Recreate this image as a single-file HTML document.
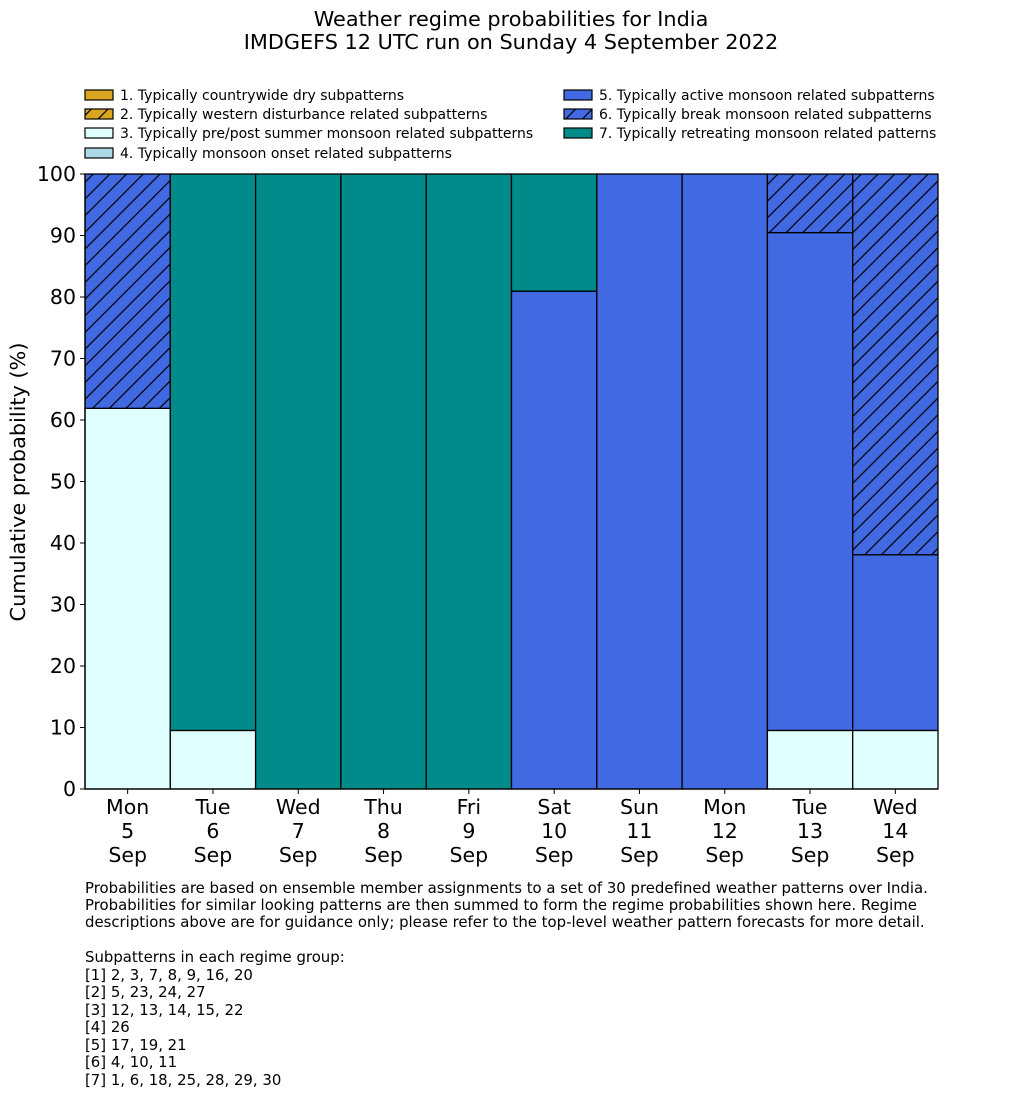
<!DOCTYPE html>
<html><head><meta charset="utf-8"><style>
body{margin:0;background:#fff;}
svg{display:block;font-family:"DejaVu Sans","Liberation Sans",sans-serif;}
</style></head><body>
<svg id="chart" width="1033" height="1114" viewBox="0 0 1033 1114" xmlns="http://www.w3.org/2000/svg">
<defs>
<pattern id="hatch6" patternUnits="userSpaceOnUse" width="16.7" height="16.7"><rect width="16.7" height="16.7" fill="#4169e1"/><path d="M0,16.7 L16.7,0 M-4,4 L4,-4 M12.7,20.7 L20.7,12.7" stroke="#000" stroke-width="1.2"/></pattern>
<pattern id="hatch2" patternUnits="userSpaceOnUse" width="16.7" height="16.7"><rect width="16.7" height="16.7" fill="#daa520"/><path d="M0,16.7 L16.7,0 M-4,4 L4,-4 M12.7,20.7 L20.7,12.7" stroke="#000" stroke-width="1.2"/></pattern>
</defs>
<text x="511" y="26" text-anchor="middle" font-size="20.8">Weather regime probabilities for India</text>
<text x="511" y="49" text-anchor="middle" font-size="20.8">IMDGEFS 12 UTC run on Sunday 4 September 2022</text>
<g id="legend" font-size="14"></g>
<g id="bars"></g>
<g id="axes"></g>
<text transform="translate(25,482) rotate(-90)" text-anchor="middle" font-size="20.8">Cumulative probability (%)</text>
<g font-size="14.9">
<text x="85" y="893">Probabilities are based on ensemble member assignments to a set of 30 predefined weather patterns over India.</text>
<text x="85" y="910">Probabilities for similar looking patterns are then summed to form the regime probabilities shown here. Regime</text>
<text x="85" y="927">descriptions above are for guidance only; please refer to the top-level weather pattern forecasts for more detail.</text>
<text x="85" y="962">Subpatterns in each regime group:</text>
<text x="85" y="980">[1] 2, 3, 7, 8, 9, 16, 20</text>
<text x="85" y="997">[2] 5, 23, 24, 27</text>
<text x="85" y="1015">[3] 12, 13, 14, 15, 22</text>
<text x="85" y="1032">[4] 26</text>
<text x="85" y="1050">[5] 17, 19, 21</text>
<text x="85" y="1067">[6] 4, 10, 11</text>
<text x="85" y="1085">[7] 1, 6, 18, 25, 28, 29, 30</text>
</g>
</svg>
<script>
const days=["Mon","Tue","Wed","Thu","Fri","Sat","Sun","Mon","Tue","Wed"];
const dates=["5","6","7","8","9","10","11","12","13","14"];
const regimeNames=["1. Typically countrywide dry subpatterns","2. Typically western disturbance related subpatterns","3. Typically pre/post summer monsoon related subpatterns","4. Typically monsoon onset related subpatterns","5. Typically active monsoon related subpatterns","6. Typically break monsoon related subpatterns","7. Typically retreating monsoon related patterns"];
const r1=[0,0,0,0,0,0,0,0,0,0];
const r2=[0,0,0,0,0,0,0,0,0,0];
const r3=[61.9,9.52,0,0,0,0,0,0,9.52,9.52];
const r4=[0,0,0,0,0,0,0,0,0,0];
const r5=[0,0,0,0,0,80.95,100,100,80.95,28.57];
const r6=[38.1,0,0,0,0,0,0,0,9.52,61.9];
const r7=[0,90.48,100,100,100,19.05,0,0,0,0];
const yTicks=[0,10,20,30,40,50,60,70,80,90,100];
const fills=["#daa520","url(#hatch2)","#e0ffff","#add8e6","#4169e1","url(#hatch6)","#008b8b"];
const NS="http://www.w3.org/2000/svg";
const X0=85,X1=938,Y0=789,Y1=174;
const bw=(X1-X0)/days.length;
const xs=i=>X0+i*bw;
const ys=v=>Y0-(Y0-Y1)*v/100;
function mk(tag,attrs,parent){const e=document.createElementNS(NS,tag);for(const k in attrs)e.setAttribute(k,attrs[k]);parent.appendChild(e);return e;}
const bars=document.getElementById('bars'),axes=document.getElementById('axes'),leg=document.getElementById('legend');
const series=[r1,r2,r3,r4,r5,r6,r7];
for(let i=0;i<days.length;i++){let cum=0;
 for(let s=0;s<series.length;s++){const v=series[s][i];if(v<=0)continue;
  const r=mk('rect',{x:xs(i),y:ys(cum+v),width:bw,height:ys(cum)-ys(cum+v),fill:fills[s],stroke:'#000','stroke-width':1.3},bars);
  
  
  cum+=v;}
 const t=mk('text',{x:xs(i)+bw/2,'text-anchor':'middle','font-size':20.5},axes);
 
 
 [days[i],dates[i],"Sep"].forEach((s,k)=>{const ts=mk('tspan',{x:xs(i)+bw/2,y:814+k*24},t);ts.textContent=s;});
 mk('line',{x1:xs(i)+bw/2,x2:xs(i)+bw/2,y1:Y0,y2:Y0+5,stroke:'#000'},axes);
}
yTicks.forEach(v=>{mk('line',{x1:X0-5,x2:X0,y1:ys(v),y2:ys(v),stroke:'#000'},axes);
 const t=mk('text',{x:X0-9,y:ys(v)+7,'text-anchor':'end','font-size':20.5},axes);
 
 
 t.textContent=v;});
mk('line',{x1:X0,x2:X0,y1:Y1,y2:Y0,stroke:'#000','stroke-width':1.3},axes);
mk('line',{x1:X0,x2:X1,y1:Y0,y2:Y0,stroke:'#000','stroke-width':1.3},axes);
const lpos=[[85,95],[85,114],[85,133],[85,153],[564,95],[564,114],[564,133]];
regimeNames.forEach((n,k)=>{const [x,y]=lpos[k];
 const g=mk('g',{},leg);
 
 
 mk('rect',{x:x,y:y-5,width:28,height:10,fill:fills[k],stroke:'#000','stroke-width':1.2},g);
 const t=mk('text',{x:x+35,y:y+5},g);t.textContent=n;});
</script>
</body></html>
